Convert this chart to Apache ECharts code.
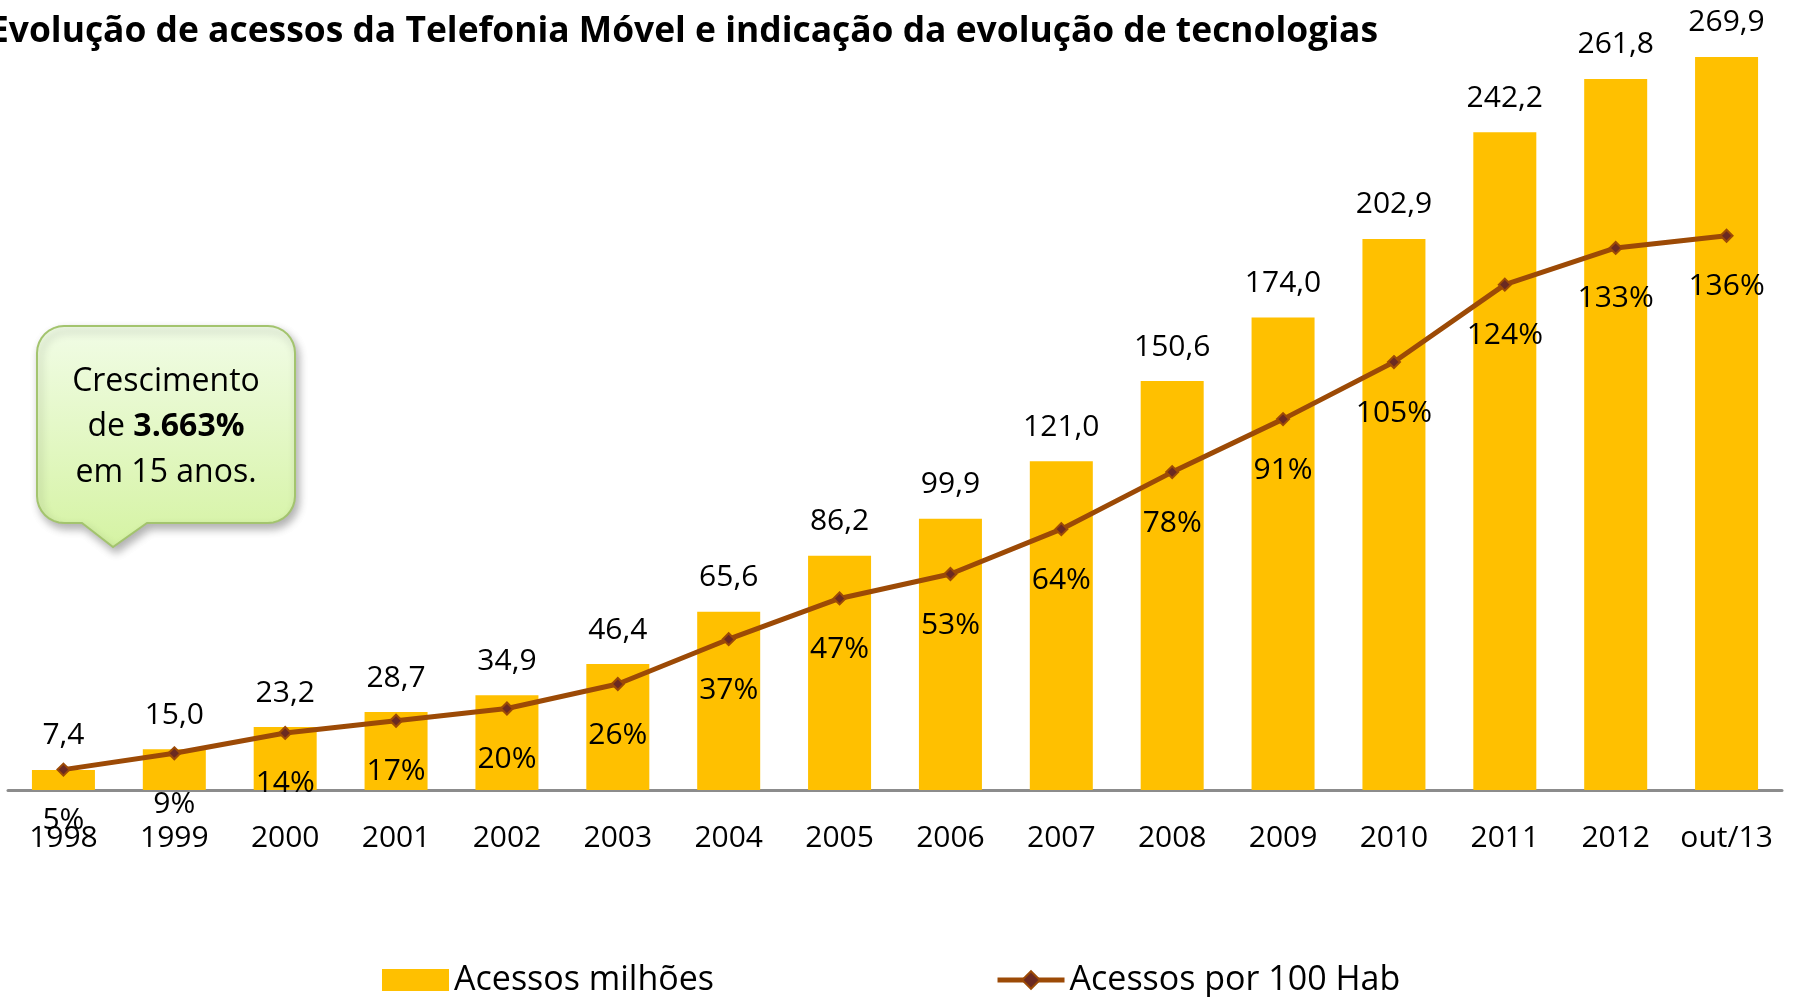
<!DOCTYPE html>
<html>
<head>
<meta charset="utf-8">
<script src="https://cdn.jsdelivr.net/npm/echarts@6/dist/echarts.min.js"></script>
<style>
  html, body { margin: 0; padding: 0; background: #fff; }
  #chart { width: 1793px; height: 997px; }
</style>
</head>
<body>
<div id="chart"></div>
<script>
const categories = ['1998', '1999', '2000', '2001', '2002', '2003', '2004', '2005',
  '2006', '2007', '2008', '2009', '2010', '2011', '2012', 'out/13'];
// Acessos em milhões
const acessosMilhoes = [7.4, 15.0, 23.2, 28.7, 34.9, 46.4, 65.6, 86.2,
  99.9, 121.0, 150.6, 174.0, 202.9, 242.2, 261.8, 269.9];
// Acessos por 100 habitantes (%)
const acessosPor100Hab = [5, 9, 14, 17, 20, 26, 37, 47,
  53, 64, 78, 91, 105, 124, 133, 136];

const fontFamily = '"Open Sans", "Liberation Sans", sans-serif';
const barColor = '#FFC000';
const lineColor = '#9C4A06';

// Balão de texto: contorno arredondado com ponta para baixo, montado como polígono
function calloutPoints(w, h, r, tailLeft, tailRight, tailTipX, tailTipY) {
  const pts = [];
  const arc = (cx, cy, a0, a1) => {
    for (let i = 0; i <= 8; i++) {
      const a = a0 + (a1 - a0) * i / 8;
      pts.push([cx + r * Math.cos(a), cy + r * Math.sin(a)]);
    }
  };
  arc(r, r, Math.PI, Math.PI * 1.5);
  arc(w - r, r, Math.PI * 1.5, Math.PI * 2);
  arc(w - r, h - r, 0, Math.PI * 0.5);
  pts.push([tailRight, h], [tailTipX, tailTipY], [tailLeft, h]);
  arc(r, h - r, Math.PI * 0.5, Math.PI);
  return pts;
}

const chart = echarts.init(document.getElementById('chart'), null, { renderer: 'canvas' });

chart.setOption({
  animation: false,
  backgroundColor: '#fff',
  title: {
    text: 'Evolução de acessos da Telefonia Móvel e indicação da evolução de tecnologias',
    left: -16,
    top: 9,
    textStyle: { fontFamily: fontFamily, fontSize: 35.4, fontWeight: 'bold', color: '#000' }
  },
  legend: {
    left: 377,
    top: 958,
    itemWidth: 67,
    itemHeight: 22,
    itemGap: 281,
    lineStyle: { width: 5 },
    textStyle: { fontFamily: fontFamily, fontSize: 34, color: '#000' },
    data: [
      { name: 'Acessos milhões', icon: 'rect' },
      { name: 'Acessos por 100 Hab' }
    ]
  },
  grid: { left: 8, right: 11, top: 29.5, bottom: 207, containLabel: false },
  xAxis: {
    type: 'category',
    data: categories,
    axisLine: { lineStyle: { color: '#8c8c8c', width: 3 } },
    axisTick: { show: false },
    axisLabel: { interval: 0, margin: 33, fontFamily: fontFamily, fontSize: 30, color: '#000' }
  },
  yAxis: [
    { type: 'value', min: 0, max: 280, show: false, splitLine: { show: false } },
    { type: 'value', min: 0, max: 186.6, show: false, splitLine: { show: false } }
  ],
  series: [
    {
      name: 'Acessos milhões',
      type: 'bar',
      data: acessosMilhoes,
      barWidth: 63,
      itemStyle: { color: barColor },
      label: {
        show: true,
        position: 'top',
        distance: 19,
        fontFamily: fontFamily,
        fontSize: 30,
        lineHeight: 30,
        color: '#000',
        formatter: p => p.value.toFixed(1).replace('.', ',')
      }
    },
    {
      name: 'Acessos por 100 Hab',
      type: 'line',
      yAxisIndex: 1,
      data: acessosPor100Hab,
      symbol: 'diamond',
      symbolSize: 12,
      lineStyle: { color: lineColor, width: 5 },
      itemStyle: { color: '#6B2A22', borderColor: lineColor, borderWidth: 2 },
      label: {
        show: true,
        position: 'bottom',
        distance: 29,
        fontFamily: fontFamily,
        fontSize: 30,
        lineHeight: 30,
        color: '#000',
        formatter: p => p.value + '%'
      }
    }
  ],
  graphic: [
    {
      type: 'group',
      x: 37,
      y: 326,
      children: [
        {
          type: 'polygon',
          shape: { points: calloutPoints(258, 197, 27, 45, 110, 76, 221) },
          style: {
            fill: new echarts.graphic.LinearGradient(0, 0, 0, 1, [
              { offset: 0, color: '#F1FCE6' },
              { offset: 1, color: '#D5F3A3' }
            ]),
            stroke: '#A3C46E',
            lineWidth: 2,
            shadowBlur: 8,
            shadowOffsetX: 3,
            shadowOffsetY: 5,
            shadowColor: 'rgba(0,0,0,0.3)'
          }
        },
        {
          type: 'text',
          x: 129,
          y: 101,
          style: {
            text: 'Crescimento\nde {b|3.663%}\nem 15 anos.',
            align: 'center',
            verticalAlign: 'middle',
            fontFamily: fontFamily,
            fontSize: 32,
            lineHeight: 45.5,
            fill: '#000',
            rich: {
              b: { fontFamily: fontFamily, fontSize: 32, fontWeight: 'bold', lineHeight: 45.5, fill: '#000' }
            }
          }
        }
      ]
    }
  ]
});
</script>
</body>
</html>
